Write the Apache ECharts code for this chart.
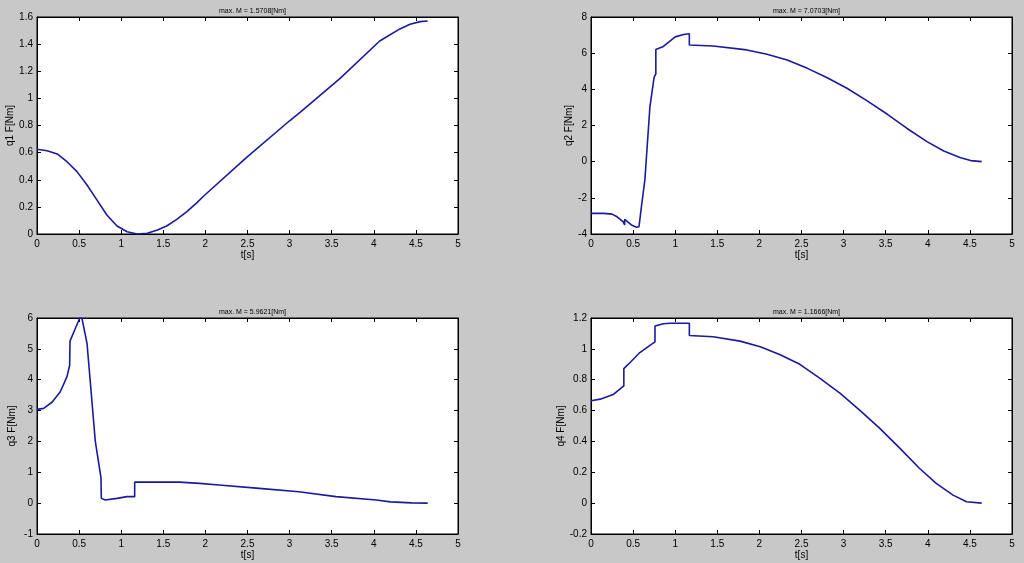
<!DOCTYPE html>
<html>
<head>
<meta charset="utf-8">
<script src="https://cdn.jsdelivr.net/npm/echarts@6/dist/echarts.min.js"></script>
<style>
html,body{margin:0;padding:0;background:#c8c8c8;}
#c{width:1024px;height:563px;}
</style>
</head>
<body>
<div id="c"></div>
<script>
// ---- data (t in s, F in Nm) ----
var q1T = [0, 0.12, 0.24, 0.356, 0.475, 0.594, 0.713, 0.83, 0.95, 1.07, 1.19, 1.31, 1.43, 1.54, 1.66, 1.78, 1.9, 1.98, 2.49, 3.0, 3.124, 3.6, 4.07, 4.31, 4.43, 4.55, 4.64];
var q1F = [0.625, 0.614, 0.59, 0.533, 0.46, 0.361, 0.25, 0.14, 0.059, 0.017, 0.0, 0.005, 0.03, 0.059, 0.108, 0.165, 0.231, 0.28, 0.565, 0.835, 0.897, 1.148, 1.423, 1.512, 1.546, 1.566, 1.5708];

var q2T = [0, 0.15, 0.25, 0.31, 0.38, 0.40, 0.40, 0.48, 0.54, 0.57, 0.60, 0.64, 0.70, 0.75, 0.77, 0.77, 0.86, 1.0, 1.1, 1.168, 1.168, 1.45, 1.85, 2.09, 2.33, 2.57, 2.8, 3.04, 3.28, 3.52, 3.75, 3.99, 4.19, 4.39, 4.51, 4.64];
var q2F = [-2.86, -2.86, -2.9, -3.05, -3.32, -3.5, -3.19, -3.5, -3.63, -3.6, -2.45, -1.0, 3.05, 4.67, 4.85, 6.2, 6.37, 6.9, 7.03, 7.07, 6.45, 6.4, 6.18, 5.94, 5.62, 5.16, 4.65, 4.06, 3.36, 2.62, 1.85, 1.11, 0.59, 0.22, 0.06, 0.0];

var q3T = [0, 0.079, 0.178, 0.277, 0.356, 0.388, 0.392, 0.455, 0.507, 0.534, 0.594, 0.693, 0.76, 0.764, 0.81, 0.95, 1.07, 1.16, 1.16, 1.69, 1.93, 2.16, 2.64, 3.11, 3.55, 4.03, 4.2, 4.45, 4.64];
var q3F = [3.04, 3.07, 3.27, 3.61, 4.1, 4.47, 5.25, 5.66, 5.99, 5.99, 5.18, 1.99, 0.82, 0.155, 0.1, 0.155, 0.21, 0.21, 0.68, 0.68, 0.64, 0.59, 0.48, 0.37, 0.21, 0.1, 0.04, 0.01, 0.0];

var q4T = [0, 0.11, 0.27, 0.39, 0.39, 0.47, 0.58, 0.7, 0.76, 0.76, 0.86, 0.94, 1.168, 1.168, 1.45, 1.77, 2.01, 2.24, 2.48, 2.72, 2.96, 3.19, 3.43, 3.67, 3.9, 4.1, 4.3, 4.46, 4.64];
var q4F = [0.664, 0.674, 0.706, 0.76, 0.872, 0.915, 0.976, 1.023, 1.045, 1.148, 1.163, 1.166, 1.166, 1.087, 1.078, 1.05, 1.014, 0.964, 0.9, 0.809, 0.711, 0.603, 0.485, 0.355, 0.226, 0.128, 0.052, 0.009, 0.0];

var titles = ['max. M = 1.5708[Nm]', 'max. M = 7.0703[Nm]', 'max. M = 5.9621[Nm]', 'max. M = 1.1666[Nm]'];
var yNames = ['q1 F[Nm]', 'q2 F[Nm]', 'q3 F[Nm]', 'q4 F[Nm]'];
var xName = 't[s]';
var yMin = [0, -4, -1, -0.2];
var yMax = [1.6, 8, 6, 1.2];
var yStep = [0.2, 2, 1, 0.2];
var xMin = 0, xMax = 5, xStep = 0.5;

// ---- layout / style ----
var series_T = [q1T, q2T, q3T, q4T];
var series_F = [q1F, q2F, q3F, q4F];
var grids = [
  {left: 37, top: 17, width: 421, height: 217},
  {left: 591, top: 17, width: 421, height: 217},
  {left: 37, top: 318, width: 421, height: 216},
  {left: 591, top: 318, width: 421, height: 216}
];
var yNameGap = [20, 14, 20, 20];
var FONT = 'Liberation Sans, Arial, sans-serif';
var lineColor = '#1a1a9e';

function zip(a, b) { return a.map(function (v, i) { return [v, b[i]]; }); }

var option = {
  backgroundColor: '#c8c8c8',
  animation: false,
  title: [], grid: [], xAxis: [], yAxis: [], series: []
};

grids.forEach(function (g, i) {
  option.grid.push({
    left: g.left, top: g.top, width: g.width, height: g.height,
    show: true, backgroundColor: '#ffffff', borderColor: '#000', borderWidth: 1,
    containLabel: false
  });
  option.title.push({
    text: titles[i],
    left: g.left + g.width / 2,
    top: g.top - 14,
    textAlign: 'center',
    textStyle: {fontSize: 7, fontWeight: 'normal', color: '#000', fontFamily: FONT}
  });
  var tick = {show: true, inside: true, length: 4, lineStyle: {color: '#000', width: 1}};
  var axLine = {show: true, onZero: false, lineStyle: {color: '#000', width: 1}};
  option.xAxis.push({
    type: 'value', gridIndex: i, min: xMin, max: xMax, interval: xStep, position: 'bottom',
    axisLine: axLine, axisTick: tick, splitLine: {show: false},
    axisLabel: {color: '#000', fontSize: 10, fontFamily: FONT, margin: 5},
    name: xName, nameLocation: 'middle', nameGap: 13,
    nameTextStyle: {color: '#000', fontSize: 10, fontFamily: FONT, verticalAlign: 'top'}
  });
  option.xAxis.push({
    type: 'value', gridIndex: i, min: xMin, max: xMax, interval: xStep, position: 'top',
    axisLine: axLine, axisTick: tick, splitLine: {show: false}, axisLabel: {show: false}
  });
  option.yAxis.push({
    type: 'value', gridIndex: i, min: yMin[i], max: yMax[i], interval: yStep[i], position: 'left',
    axisLine: axLine, axisTick: tick, splitLine: {show: false},
    axisLabel: {color: '#000', fontSize: 10, fontFamily: FONT, margin: 4},
    name: yNames[i], nameLocation: 'middle', nameGap: yNameGap[i], nameRotate: 90,
    nameTextStyle: {color: '#000', fontSize: 10, fontFamily: FONT}
  });
  option.yAxis.push({
    type: 'value', gridIndex: i, min: yMin[i], max: yMax[i], interval: yStep[i], position: 'right',
    axisLine: axLine, axisTick: tick, splitLine: {show: false}, axisLabel: {show: false}
  });
  option.series.push({
    type: 'line', xAxisIndex: 2 * i, yAxisIndex: 2 * i,
    data: zip(series_T[i], series_F[i]),
    showSymbol: false, symbol: 'none', smooth: false,
    lineStyle: {color: lineColor, width: 1.6},
    silent: true
  });
});

var chart = echarts.init(document.getElementById('c'), null, {renderer: 'canvas'});
chart.setOption(option);
</script>
</body>
</html>
